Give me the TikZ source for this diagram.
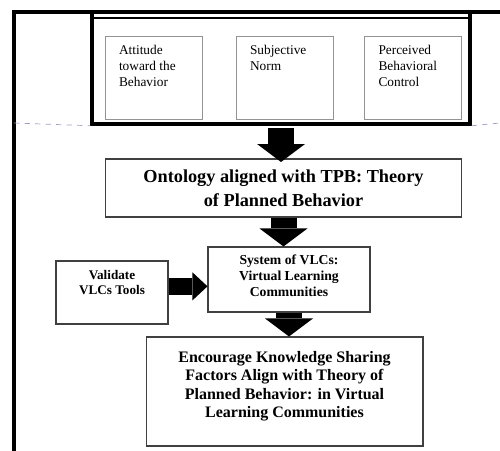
\documentclass[tikz,border=0pt]{standalone}
\usepackage{fontspec}
\setmainfont{Liberation Serif}
\usetikzlibrary{arrows.meta,calc}

\tikzset{
factor/.style={draw=gray!85, line width=0.5pt, minimum width=1.94cm, minimum height=1.66cm,
  inner xsep=0.28cm, inner ysep=0.18cm, font=\fontsize{7.6}{9.1}\selectfont},
stage/.style={draw=black!75, line width=0.6pt},
blockdown/.style={line width=0.52cm, -{Triangle[width=0.96cm,length=0.36cm,line width=0pt]}},
blockright/.style={line width=0.34cm, -{Triangle[width=0.56cm,length=0.30cm,line width=0pt]}},
guide/.style={draw=blue!25!gray!60, dashed, line width=0.4pt}
}

\begin{document}
\begin{tikzpicture}[x=0.02cm,y=-0.02cm]
\useasboundingbox (0,0) rectangle (500,450);

% -------- Page frame --------
\draw[line width=2pt] (14,460) -- (14,12) -- (510,12);

% -------- TPB factors --------
\node[draw, line width=2pt, minimum width=7.56cm, minimum height=2.24cm] (tpb) at (281,68) {};
\draw[line width=1.5pt] ([yshift=-4.5pt]tpb.north west) -- ([yshift=-4.5pt]tpb.north east);
\draw[guide] (14,123) -- (tpb.south west);
\draw[guide] (tpb.south east) -- (500,123);

\node[factor] (attitude) at (153.5,77.5)
{\parbox[t][1.30cm][t]{1.38cm}{Attitude\\toward the\\Behavior}};
\node[factor] (norm) at (284.5,77.5)
{\parbox[t][1.30cm][t]{1.38cm}{Subjective\\Norm}};
\node[factor] (control) at (413,77.5)
{\parbox[t][1.30cm][t]{1.38cm}{Perceived\\Behavioral\\Control}};

% -------- Ontology --------
\node[stage, minimum width=7.14cm, minimum height=1.16cm, align=center,
font=\bfseries\fontsize{10.4}{13.7}\selectfont] (onto) at (283.5,188)
{Ontology aligned with TPB: Theory\\of Planned Behavior};

% -------- VLCs --------
\node[stage, minimum width=3.24cm, minimum height=1.3cm, inner ysep=0.16cm,
font=\bfseries\fontsize{7.8}{9.1}\selectfont] (vlc) at (289,279.5)
{\parbox[t][0.98cm][t]{3cm}{\centering System of VLCs:\\Virtual Learning\\Communities}};

\node[stage, minimum width=2.24cm, minimum height=1.26cm, inner ysep=0.18cm,
font=\bfseries\fontsize{7.5}{8.5}\selectfont] (validate) at (112,292.5)
{\parbox[t][0.9cm][t]{2cm}{\centering Validate\\VLCs Tools}};

% -------- Outcome --------
\node[stage, minimum width=5.54cm, minimum height=2.18cm, inner ysep=0.28cm,
font=\bfseries\fontsize{9.1}{10.6}\selectfont] (encourage) at (284.5,391.5)
{\parbox[t][1.62cm][t]{5.2cm}{\centering Encourage Knowledge Sharing\\Factors Align with Theory of\\Planned Behavior: in Virtual\\Learning Communities}};

% -------- Block arrows --------
\draw[blockdown] ([yshift=-1.5pt]tpb.south) -- ([yshift=-2pt]tpb.south |- onto.north);
\draw[blockdown] (onto.south) -- (onto.south |- vlc.north);
\draw[blockdown] (vlc.south) -- (vlc.south |- encourage.north);
\draw[blockright] ([yshift=3.5pt]validate.east) -- ([yshift=3.5pt]validate.east -| vlc.west);

\end{tikzpicture}
\end{document}
